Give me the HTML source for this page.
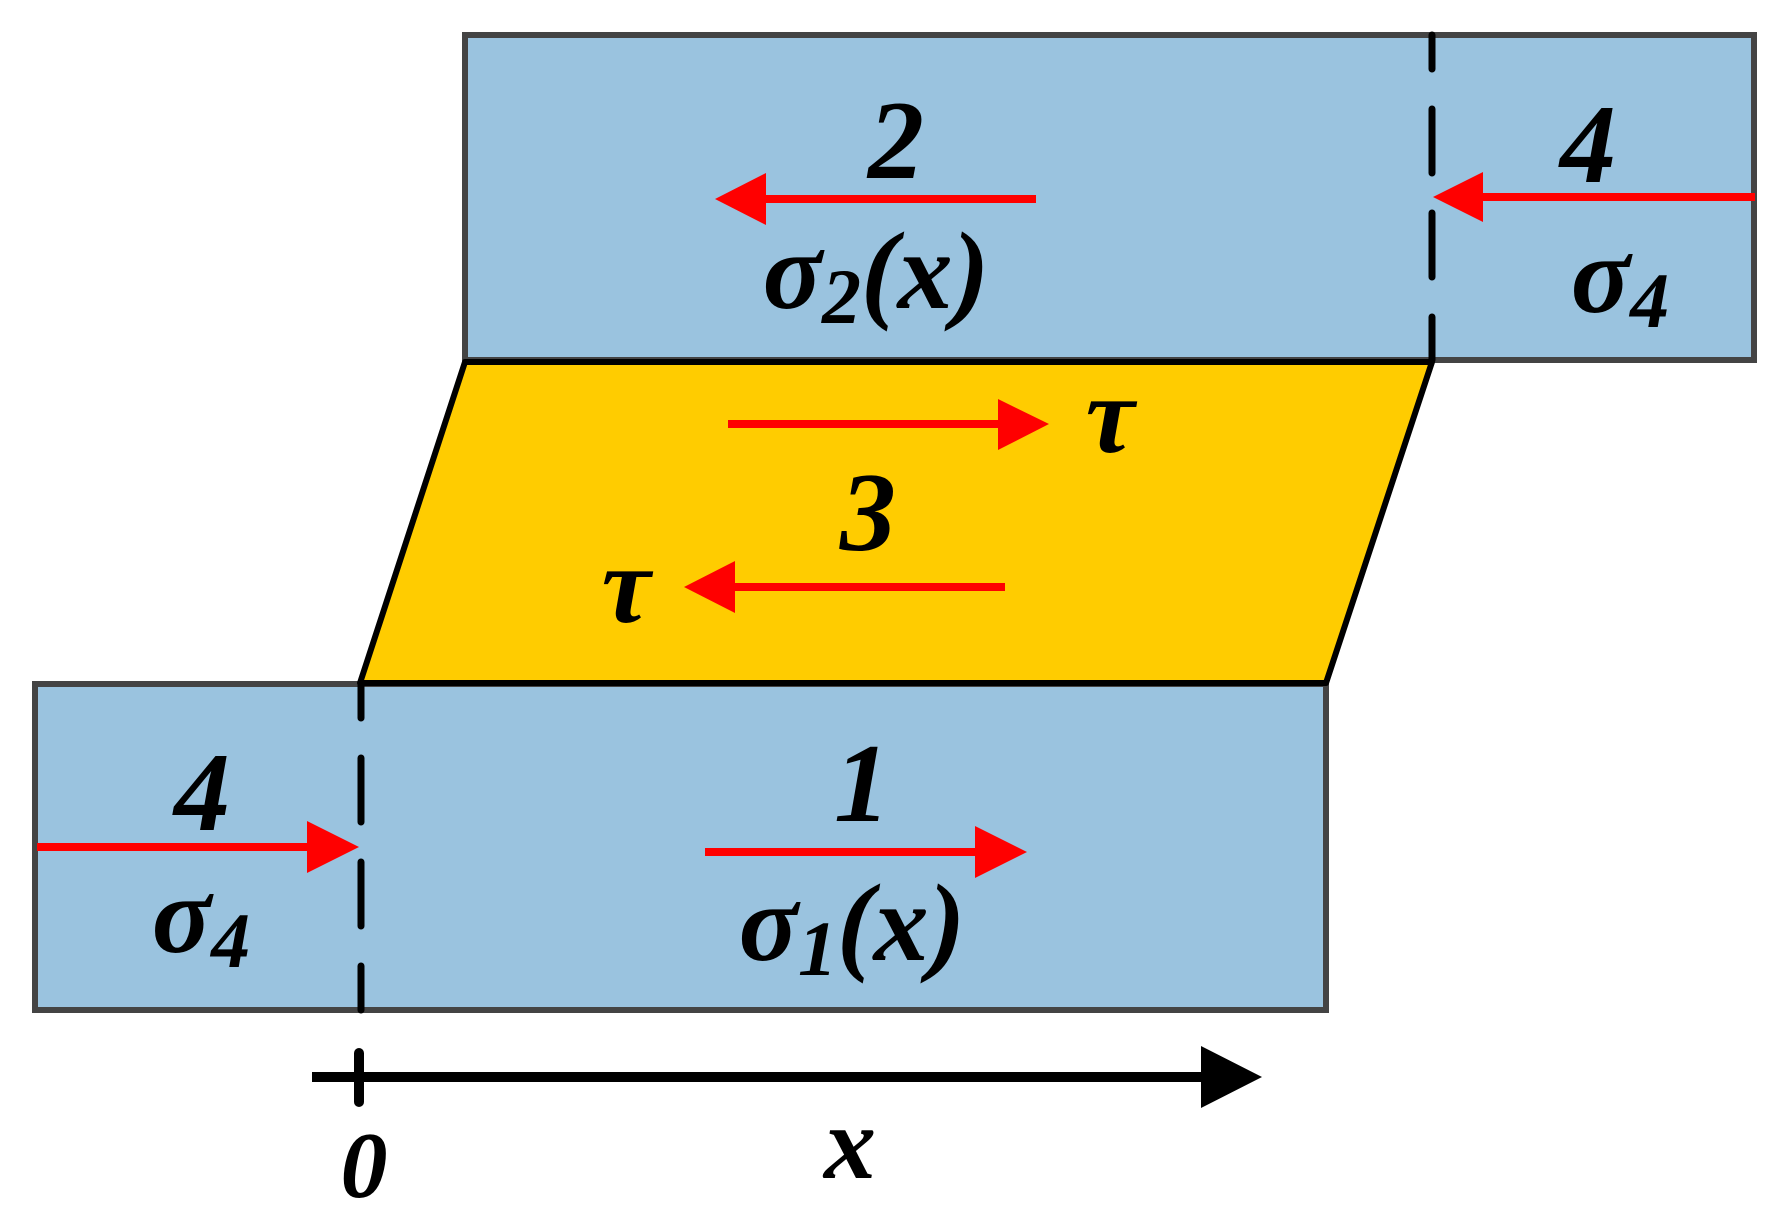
<!DOCTYPE html>
<html><head><meta charset="utf-8"><style>
html,body{margin:0;padding:0;background:#fff;}
svg{display:block;}
svg text{font-family:"Liberation Serif","DejaVu Serif",serif !important;font-style:italic;font-weight:700;fill:#000;}
</style></head><body>
<svg width="1784" height="1221" viewBox="0 0 1784 1221" xmlns="http://www.w3.org/2000/svg" font-family="Liberation Serif, DejaVu Serif, serif">
<rect x="465" y="35" width="1289" height="325" fill="#9AC3DF" stroke="#444" stroke-width="6"/>
<rect x="35" y="684" width="1291" height="326" fill="#9AC3DF" stroke="#444" stroke-width="6"/>
<polygon points="465,362 1432,362 1326,683 360,683" fill="#FFCC00" stroke="#000" stroke-width="6" stroke-linejoin="round"/>
<line x1="1432" y1="35" x2="1432" y2="360" stroke="#000" stroke-width="7" stroke-dasharray="64 40" stroke-dashoffset="30" stroke-linecap="round"/>
<line x1="361" y1="684" x2="361" y2="1010" stroke="#000" stroke-width="7" stroke-dasharray="64 40" stroke-dashoffset="30" stroke-linecap="round"/>
<line x1="312" y1="1077" x2="1210" y2="1077" stroke="#000" stroke-width="10"/>
<polygon points="1201,1046 1262,1077 1201,1108" fill="#000"/>
<line x1="359" y1="1053" x2="359" y2="1102" stroke="#000" stroke-width="10" stroke-linecap="round"/>
<g fill="#FF0000">
<rect x="766" y="195" width="270" height="8"/><polygon points="715,199 766,173 766,225"/>
<rect x="1483" y="193" width="272" height="8"/><polygon points="1433,197 1483,172 1483,222"/>
<rect x="728" y="420" width="272" height="8"/><polygon points="1049,424 998,399 998,450"/>
<rect x="735" y="583" width="270" height="8"/><polygon points="684,587 735,561 735,613"/>
<rect x="37" y="843" width="272" height="8"/><polygon points="359,847 307,821 307,873"/>
<rect x="705" y="848" width="272" height="8"/><polygon points="1027,852 975,826 975,878"/>
</g>
<text x="896" y="178" font-size="112" font-style="italic" font-weight="bold" text-anchor="middle">2</text>
<text x="876" y="308" font-size="110" font-style="italic" font-weight="bold" text-anchor="middle">σ<tspan font-size="78" dy="15">2</tspan><tspan dy="-15">(x)</tspan></text>
<text x="1588" y="182" font-size="112" font-style="italic" font-weight="bold" text-anchor="middle">4</text>
<text x="1620" y="312" font-size="110" font-style="italic" font-weight="bold" text-anchor="middle">σ<tspan font-size="78" dy="15">4</tspan></text>
<text x="1110" y="452" font-size="110" font-style="italic" font-weight="bold" text-anchor="middle">τ</text>
<text x="868" y="550" font-size="112" font-style="italic" font-weight="bold" text-anchor="middle">3</text>
<text x="626" y="622" font-size="110" font-style="italic" font-weight="bold" text-anchor="middle">τ</text>
<text x="202" y="830" font-size="112" font-style="italic" font-weight="bold" text-anchor="middle">4</text>
<text x="201" y="952" font-size="110" font-style="italic" font-weight="bold" text-anchor="middle">σ<tspan font-size="78" dy="15">4</tspan></text>
<text x="862" y="821" font-size="112" font-style="italic" font-weight="bold" text-anchor="middle">1</text>
<text x="852" y="960" font-size="110" font-style="italic" font-weight="bold" text-anchor="middle">σ<tspan font-size="78" dy="15">1</tspan><tspan dy="-15">(x)</tspan></text>
<text x="364" y="1197" font-size="94" font-style="italic" font-weight="bold" text-anchor="middle">0</text>
<text x="850" y="1178" font-size="104" font-style="italic" font-weight="bold" text-anchor="middle">x</text>
</svg>
</body></html>
